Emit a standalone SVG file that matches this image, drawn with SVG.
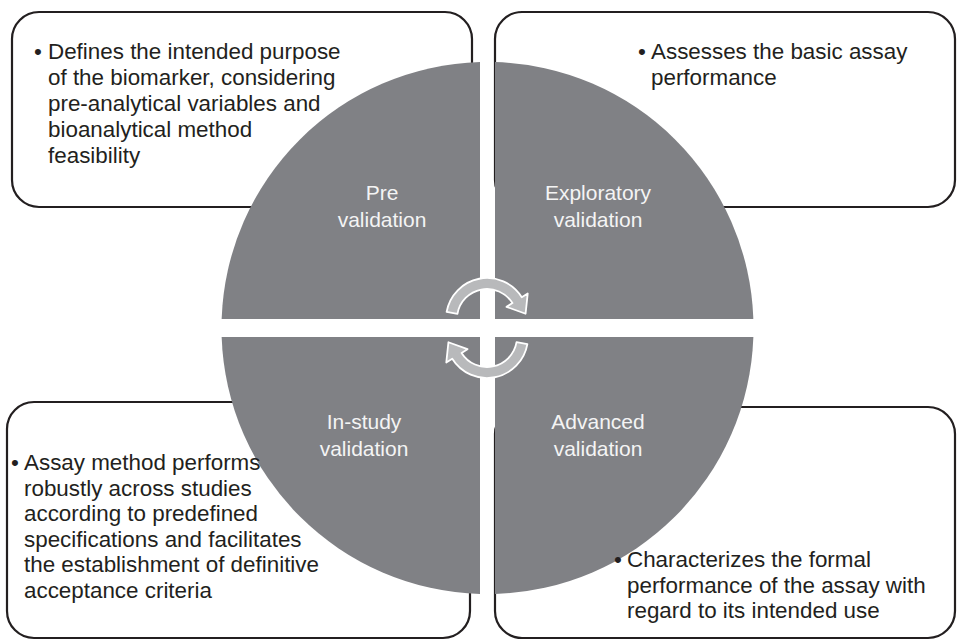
<svg xmlns="http://www.w3.org/2000/svg" width="957" height="641" viewBox="0 0 957 641">
<style>
.box{fill:#fff;stroke:#231f20;stroke-width:2.2}
.q{fill:#808185}
.t{font-family:"Liberation Sans",Arial,sans-serif;font-size:22.4px;fill:#231f20}
.lbl{font-family:"Liberation Sans",Arial,sans-serif;font-size:21px;fill:#f4f4f4;text-anchor:middle}
.arr{fill:#b8b9bb;stroke:#fff;stroke-width:1.8;stroke-linejoin:round}
</style>
<defs>
<path id="cyc" d="M-40.38 -7.12 A41 41 0 0 1 34.77 -21.73 L40.7 -25.44 L38.58 -5.24 L19.5 -12.19 L25.44 -15.9 A30 30 0 0 0 -29.54 -5.21 Z"/>
</defs>
<g id="box-pre"><rect class="box" x="12" y="12" width="460" height="195" rx="27"/></g>
<g id="box-exploratory"><rect class="box" x="495" y="12" width="460" height="195" rx="27"/></g>
<g id="box-instudy"><rect class="box" x="7" y="402" width="463" height="236" rx="27"/></g>
<g id="box-advanced"><rect class="box" x="495" y="407" width="460" height="231" rx="27"/></g>
<g id="q-pre"><path class="q" d="M480 319 L480 62.11 A266 266 0 0 0 221.65 319 Z"/>
<text class="lbl"><tspan x="382" y="200">Pre</tspan><tspan x="382" y="227">validation</tspan></text></g>
<g id="q-exploratory"><path class="q" d="M495 319 L753.35 319 A266 266 0 0 0 495 62.11 Z"/>
<text class="lbl"><tspan x="598" y="200">Exploratory</tspan><tspan x="598" y="227">validation</tspan></text></g>
<g id="q-instudy"><path class="q" d="M480 337 L221.65 337 A266 266 0 0 0 480 593.89 Z"/>
<text class="lbl"><tspan x="364" y="429">In-study</tspan><tspan x="364" y="456">validation</tspan></text></g>
<g id="q-advanced"><path class="q" d="M495 337 L495 593.89 A266 266 0 0 0 753.35 337 Z"/>
<text class="lbl"><tspan x="598" y="429">Advanced</tspan><tspan x="598" y="456">validation</tspan></text></g>
<g id="box-pre-text"><text class="t"><tspan x="34" y="59">•</tspan><tspan x="48" y="59">Defines the intended purpose</tspan><tspan x="48" y="85">of the biomarker, considering</tspan><tspan x="48" y="111">pre-analytical variables and</tspan><tspan x="48" y="137">bioanalytical method</tspan><tspan x="48" y="163">feasibility</tspan></text></g>
<g id="box-exploratory-text"><text class="t"><tspan x="638" y="59">•</tspan><tspan x="651" y="59">Assesses the basic assay</tspan><tspan x="651" y="85">performance</tspan></text></g>
<g id="box-instudy-text"><text class="t"><tspan x="11" y="470">•</tspan><tspan x="24" y="470">Assay method performs</tspan><tspan x="24" y="495.5">robustly across studies</tspan><tspan x="24" y="521">according to predefined</tspan><tspan x="24" y="546.5">specifications and facilitates</tspan><tspan x="24" y="572">the establishment of definitive</tspan><tspan x="24" y="597.5">acceptance criteria</tspan></text></g>
<g id="box-advanced-text"><text class="t"><tspan x="614" y="567">•</tspan><tspan x="627" y="567">Characterizes the formal</tspan><tspan x="627" y="592.5">performance of the assay with</tspan><tspan x="627" y="618">regard to its intended use</tspan></text></g>
<g id="connectors">
<use href="#cyc" class="arr" transform="translate(487 319)"/>
<use href="#cyc" class="arr" transform="translate(487 337) rotate(180)"/>
</g>
</svg>
